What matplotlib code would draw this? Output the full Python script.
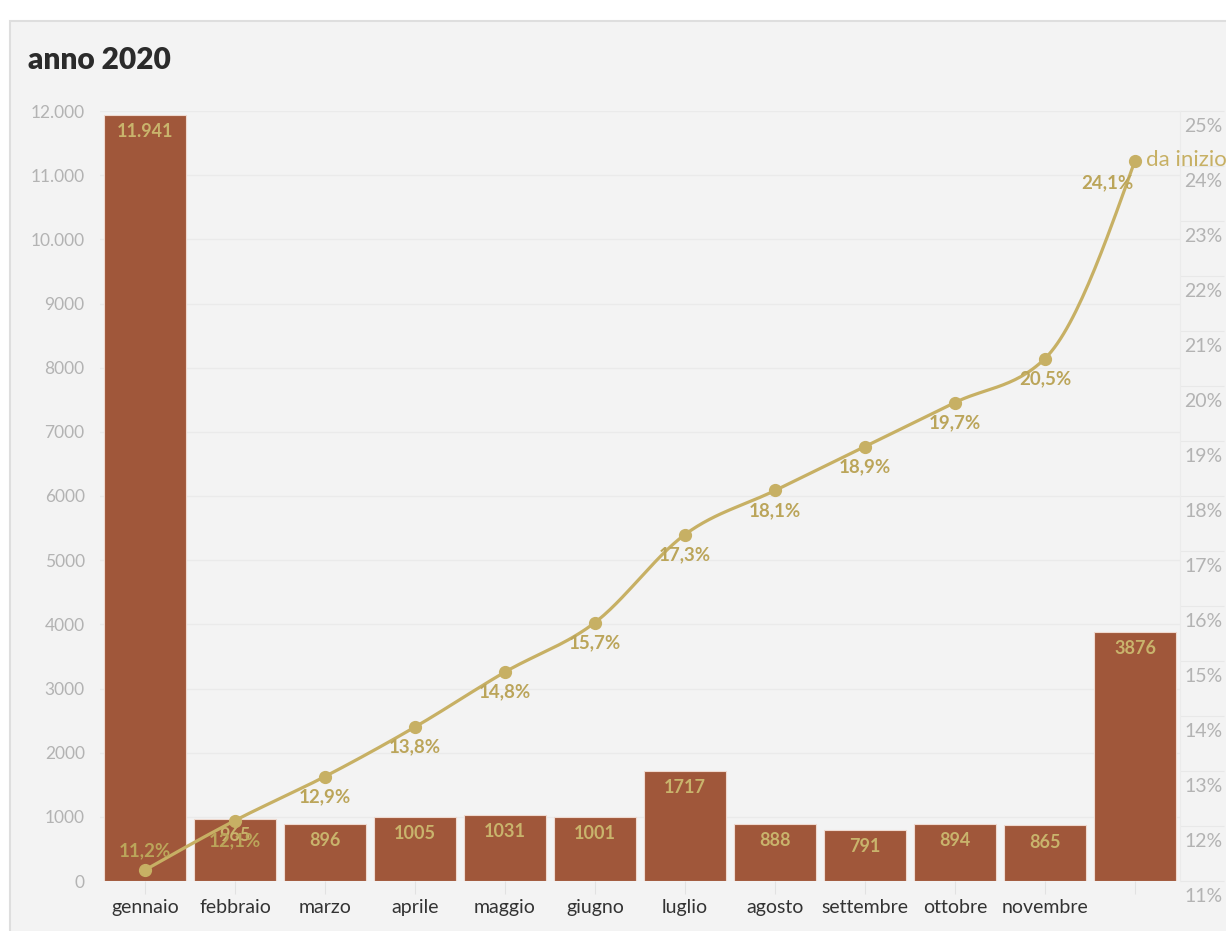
import numpy as np
import matplotlib
matplotlib.use("Agg")
import matplotlib.pyplot as plt
from matplotlib.patches import Rectangle
from matplotlib.transforms import ScaledTranslation

plt.rcParams['font.family'] = ['Lato', 'DejaVu Sans']

mesi = ["gennaio", "febbraio", "marzo", "aprile", "maggio", "giugno",
        "luglio", "agosto", "settembre", "ottobre", "novembre", ""]
valori = [11941, 965, 896, 1005, 1031, 1001, 1717, 888, 791, 894, 865, 3876]
da_inizio = [11.2, 12.1, 12.9, 13.8, 14.8, 15.7, 17.3, 18.1, 18.9, 19.7, 20.5, 24.1]
nome_serie = "da inizio"

col_barre = "#a0573a"
col_linea = "#c7b064"
col_testo = "#bba55a"
col_grigio = "#b3b3b3"


def formato_it(v):
    # 4 cifre senza separatore, da 5 cifre con il punto
    if abs(v) >= 10000:
        return f"{int(v):,}".replace(",", ".")
    return f"{int(v)}"


def curva_monotona(x, y, passi=30):
    x = np.asarray(x, float)
    y = np.asarray(y, float)
    h = np.diff(x)
    s = np.diff(y) / h
    m = np.zeros_like(y)
    for i in range(1, len(y) - 1):
        p = (s[i - 1] * h[i] + s[i] * h[i - 1]) / (h[i - 1] + h[i])
        m[i] = (np.sign(s[i - 1]) + np.sign(s[i])) * min(abs(s[i - 1]), abs(s[i]), 0.5 * abs(p))
    m[0] = (3 * s[0] - m[1]) / 2
    m[-1] = (3 * s[-1] - m[-2]) / 2
    xs, ys = [], []
    for i in range(len(x) - 1):
        t = np.linspace(0, 1, passi, endpoint=(i == len(x) - 2))
        h00 = 2 * t**3 - 3 * t**2 + 1
        h10 = t**3 - 2 * t**2 + t
        h01 = -2 * t**3 + 3 * t**2
        h11 = t**3 - t**2
        xs.append(x[i] + t * h[i])
        ys.append(h00 * y[i] + h10 * h[i] * m[i] + h01 * y[i + 1] + h11 * h[i] * m[i + 1])
    return np.concatenate(xs), np.concatenate(ys)


fig = plt.figure(figsize=(12.26, 9.31), dpi=100)
fig.patch.set_facecolor("white")
# pannello grigio dietro al grafico
fig.patches.append(Rectangle((10 / 1226, -0.01), 1.0, (931 - 21) / 931 + 0.01,
                             transform=fig.transFigure, facecolor="#f3f3f3",
                             edgecolor="#dedede", linewidth=1.5, zorder=-10))
fig.text(28 / 1226, 1 - 60 / 931, "anno 2020", fontsize=21.5, fontweight="heavy",
         color="#2b2b2b", va="center", ha="left")

ax = fig.add_axes([100 / 1226, 50 / 931, 1080 / 1226, 770 / 931])
ax.set_facecolor("none")
x = np.arange(len(mesi))

ax.bar(x, valori, width=0.91, color=col_barre, edgecolor="#efd9cf", linewidth=0.8, zorder=2)
for xi, v in zip(x, valori):
    ax.annotate(formato_it(v), (xi, v), xytext=(0, -12), textcoords="offset points",
                ha="center", va="center", fontsize=13, fontweight="bold",
                color="#c9b46c", zorder=3)

ax.set_xlim(-0.5, len(mesi) - 0.5)
ax.set_ylim(0, 12000)
ax.set_yticks(np.arange(0, 12001, 1000))
ax.set_yticklabels([formato_it(v) for v in np.arange(0, 12001, 1000)])
ax.set_xticks(x)
ax.set_xticklabels(mesi)
ax.tick_params(axis="y", length=0, pad=11, labelsize=12.5, labelcolor=col_grigio)
ax.tick_params(axis="x", length=9, width=0.8, color="#e2e2e2", pad=4,
               labelsize=14, labelcolor="#333333")
ax.grid(axis="y", color="#eaeaea", linewidth=1, zorder=0)
ax.set_axisbelow(True)
for sp in ax.spines.values():
    sp.set_visible(False)

ax2 = ax.twinx()
ax2.set_ylim(11, 25)
ax2.set_yticks(np.arange(11, 26, 1))
ax2.set_yticklabels([f"{v}%" for v in range(11, 26)])
ax2.tick_params(axis="y", length=32, width=0.8, color="#e8e8e8", pad=-29,
                labelsize=14, labelcolor=col_grigio)
for lab in ax2.get_yticklabels():
    lab.set_horizontalalignment("left")
    lab.set_transform(lab.get_transform() + ScaledTranslation(0, -14 / 100, fig.dpi_scale_trans))
for nome, sp in ax2.spines.items():
    sp.set_visible(nome == "right")
ax2.spines["right"].set_color("#ebebeb")

cx, cy = curva_monotona(x, da_inizio)
ax2.plot(cx, cy, color=col_linea, linewidth=2.3, zorder=4, solid_capstyle="round")
ax2.plot(x, da_inizio, "o", color=col_linea, markersize=8.5, zorder=5)

spost = [(0, 14)] + [(0, -14.5)] * 10 + [(-20, -16)]
for xi, v, (dx, dy) in zip(x, da_inizio, spost):
    ax2.annotate(f"{v:.1f}%".replace(".", ","), (xi, v), xytext=(dx, dy),
                 textcoords="offset points", ha="center", va="center",
                 fontsize=13.5, fontweight="bold", color=col_testo, zorder=6)
ax2.annotate(nome_serie, (x[-1], da_inizio[-1]), xytext=(8, 0), textcoords="offset points",
             ha="left", va="center", fontsize=16, color=col_linea,
             annotation_clip=False, zorder=6)

fig.savefig("out.png", dpi=100, facecolor=fig.get_facecolor())
